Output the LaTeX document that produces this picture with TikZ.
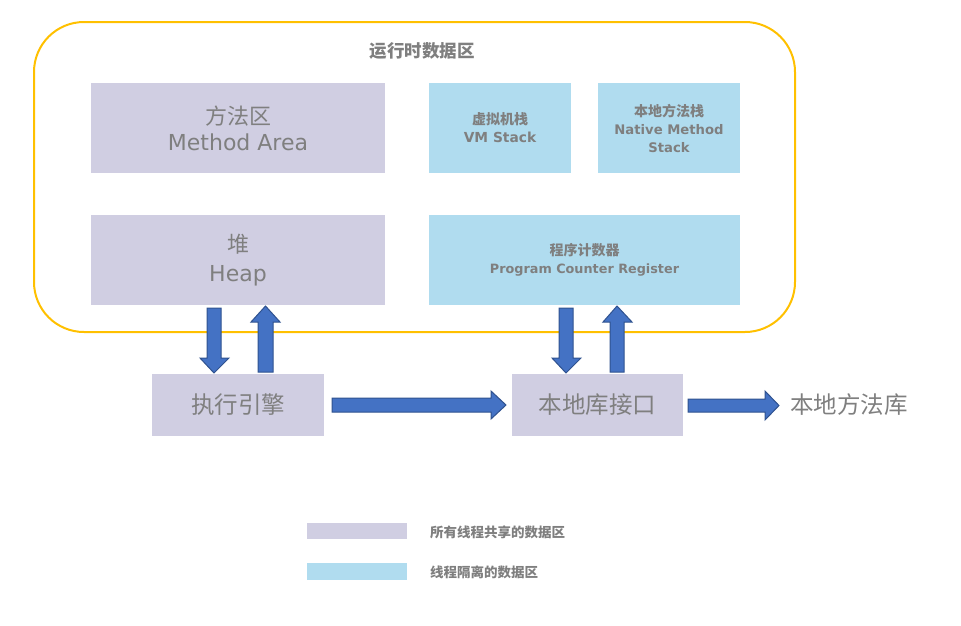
\documentclass[tikz,border=0pt]{standalone}
\usepackage{fontspec}
\setmainfont{Noto Sans CJK SC}
\newfontfamily\latinfont{DejaVu Sans}
\definecolor{shared}{HTML}{D0CEE2}
\definecolor{private}{HTML}{B0DCEF}
\definecolor{txt}{HTML}{7F7F7F}
\definecolor{frame}{HTML}{FFC000}
\definecolor{arrfill}{HTML}{4472C4}
\definecolor{arrline}{HTML}{2F528F}
\tikzset{
  sharedbox/.style={fill=shared, draw=none, inner sep=0pt, align=center, text=txt},
  privatebox/.style={fill=private, draw=none, inner sep=0pt, align=center, text=txt},
  blockarr/.style={fill=arrfill, draw=arrline, line width=1pt, line join=miter},
  plaintext/.style={text=txt, inner sep=0pt, align=left}
}
\begin{document}
\begin{tikzpicture}[x=1pt,y=-1pt]
\useasboundingbox (0,0) rectangle (961,625);
% runtime data area frame
\draw[frame, line width=2pt, rounded corners=50pt] (34,22) rectangle (795,332);
\node[plaintext, font=\bfseries\fontsize{17.5}{20}\selectfont] (title) at (422,51) {运行时数据区};
% boxes
\node[sharedbox, minimum width=294pt, minimum height=90pt, font=\fontsize{22}{26}\selectfont] (method) at (238,128)
  {方法区\\{\latinfont Method Area}};
\node[privatebox, minimum width=142pt, minimum height=90pt, font=\bfseries\fontsize{14}{18}\selectfont] (vm) at (500,128)
  {虚拟机栈\\{\latinfont\fontsize{13.8}{18}\selectfont VM Stack}};
\node[privatebox, minimum width=142pt, minimum height=90pt, font=\bfseries\fontsize{14}{18}\selectfont] (native) at (669,128)
  {本地方法栈\\{\latinfont\fontsize{13.2}{18}\selectfont Native Method}\\{\latinfont\fontsize{13.2}{18}\selectfont Stack}};
\node[sharedbox, minimum width=294pt, minimum height=90pt, font=\fontsize{22}{29}\selectfont] (heap) at (238,260)
  {堆\\{\latinfont Heap}};
\node[privatebox, minimum width=311pt, minimum height=90pt, font=\bfseries\fontsize{14}{18}\selectfont] (pc) at (584.5,260)
  {程序计数器\\{\latinfont\fontsize{12.8}{18}\selectfont Program Counter Register}};
\node[sharedbox, minimum width=172pt, minimum height=62pt, font=\fontsize{23.5}{26}\selectfont] (engine) at (238,405) {执行引擎};
\node[sharedbox, minimum width=171pt, minimum height=62pt, font=\fontsize{23.5}{26}\selectfont] (jni) at (597.5,405) {本地库接口};
\node[plaintext, font=\fontsize{23.5}{26}\selectfont, anchor=west] (lib) at (790,405) {本地方法库};
% block arrows heap <-> engine
\draw[blockarr] (207,308) -- (221,308) -- (221,358) -- (229,358) -- (214,373) -- (200,358) -- (207,358) -- cycle;
\draw[blockarr] (258,372) -- (273,372) -- (273,322) -- (280,322) -- (265.5,306) -- (251,322) -- (258,322) -- cycle;
% block arrows pc <-> jni
\draw[blockarr] (559,308) -- (573,308) -- (573,358) -- (581,358) -- (566,373) -- (552,358) -- (559,358) -- cycle;
\draw[blockarr] (610,372) -- (624,372) -- (624,322) -- (632,322) -- (617,306) -- (603,322) -- (610,322) -- cycle;
% engine -> jni
\draw[blockarr] (332,398) -- (491,398) -- (491,391) -- (506,405) -- (491,419) -- (491,412) -- (332,412) -- cycle;
% jni -> lib
\draw[blockarr] (688,399) -- (765,399) -- (765,391) -- (779,405.5) -- (765,420) -- (765,412) -- (688,412) -- cycle;
% legend
\node[fill=shared, minimum width=100pt, minimum height=16pt, inner sep=0pt] (legA) at (357,531) {};
\node[plaintext, font=\bfseries\fontsize{13.5}{15}\selectfont, anchor=west] (legAt) at (430,532) {所有线程共享的数据区};
\node[fill=private, minimum width=100pt, minimum height=17pt, inner sep=0pt] (legB) at (357,571.5) {};
\node[plaintext, font=\bfseries\fontsize{13.5}{15}\selectfont, anchor=west] (legBt) at (430,572) {线程隔离的数据区};
\end{tikzpicture}
\end{document}
